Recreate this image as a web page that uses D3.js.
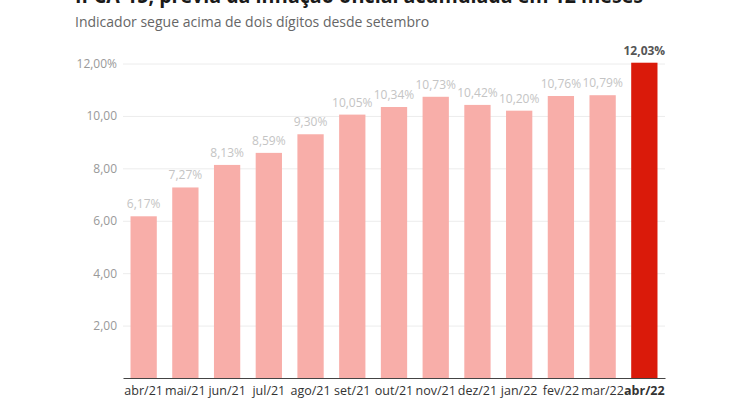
<!DOCTYPE html>
<html>
<head>
<meta charset="utf-8">
<script src="https://cdn.jsdelivr.net/npm/d3@7"></script>
<style>
  body { margin: 0; background: #fff; }
  svg { font-family: "Open Sans", sans-serif; }
</style>
</head>
<body>
<div id="chart"></div>
<script>
// IPCA-15 acumulado em 12 meses
const months = ["abr/21", "mai/21", "jun/21", "jul/21", "ago/21", "set/21", "out/21",
  "nov/21", "dez/21", "jan/22", "fev/22", "mar/22", "abr/22"];
const values = [6.17, 7.27, 8.13, 8.59, 9.30, 10.05, 10.34, 10.73, 10.42, 10.20, 10.76, 10.79, 12.03];
const yTicks = [2, 4, 6, 8, 10, 12];

const title = "IPCA-15, prévia da inflação oficial acumulada em 12 meses";
const subtitle = "Indicador segue acima de dois dígitos desde setembro";

const width = 742, height = 400;
const margin = { left: 123, right: 77, top: 63.5, bottom: 22 };
const data = months.map((m, i) => ({ month: m, value: values[i] }));
const last = months[months.length - 1];

const svg = d3.select("#chart").append("svg")
  .attr("width", width)
  .attr("height", height);

const x = d3.scaleBand()
  .domain(months)
  .range([margin.left, width - margin.right])
  .paddingInner(0.37)
  .paddingOuter(0.18);

const y = d3.scaleLinear()
  .domain([0, 12])
  .range([height - margin.bottom, margin.top]);

const comma = (v, d) => d3.format(`.${d}f`)(v).replace(".", ",");

// titles (title is cut off at the top in the source image)
svg.append("text")
  .attr("x", 75).attr("y", 2.5)
  .attr("font-size", 21).attr("font-weight", 700)
  .attr("textLength", 568)
  .attr("lengthAdjust", "spacingAndGlyphs")
  .attr("fill", "#1a1a1a")
  .text(title);
svg.append("text")
  .attr("x", 75).attr("y", 27)
  .attr("font-size", 14)
  .attr("fill", "#666")
  .text(subtitle);

// y axis: gridlines + labels
const yAxis = svg.append("g")
  .attr("transform", `translate(${margin.left},0)`)
  .call(d3.axisLeft(y)
    .tickValues(yTicks)
    .tickSize(-(width - margin.left - margin.right))
    .tickPadding(6)
    .tickFormat((d) => comma(d, 2) + (d === 12 ? "%" : "")));
yAxis.select(".domain").remove();
yAxis.selectAll(".tick line").attr("stroke", "#ececec");
yAxis.selectAll(".tick text")
  .attr("fill", "#999")
  .attr("font-size", 12)
  .attr("font-family", "Open Sans, sans-serif");

// bars
svg.append("g")
  .selectAll("rect")
  .data(data)
  .enter()
  .append("rect")
    .attr("x", (d) => x(d.month))
    .attr("width", x.bandwidth())
    .attr("y", (d) => y(d.value))
    .attr("height", (d) => y(0) - y(d.value))
    .attr("fill", (d) => d.month === last ? "#da1a0a" : "#f8aea9");

// value labels
svg.append("g")
  .selectAll("text")
  .data(data)
  .enter()
  .append("text")
    .attr("x", (d) => x(d.month) + x.bandwidth() / 2)
    .attr("y", (d) => y(d.value) - 8)
    .attr("text-anchor", "middle")
    .attr("font-size", 12)
    .attr("font-weight", (d) => d.month === last ? 700 : 400)
    .attr("fill", (d) => d.month === last ? "#555" : "#c4c4c4")
    .text((d) => comma(d.value, 2) + "%");

// x axis
const xAxis = svg.append("g")
  .attr("transform", `translate(0,${y(0)})`)
  .call(d3.axisBottom(x).tickSize(0).tickPadding(8));
xAxis.select(".domain").attr("stroke", "#444").attr("stroke-width", 1.2);
xAxis.selectAll(".tick text")
  .attr("fill", "#333")
  .attr("font-size", 12.5)
  .attr("font-family", "Open Sans, sans-serif")
  .attr("font-weight", (d) => d === last ? 700 : 400);
</script>
</body>
</html>
